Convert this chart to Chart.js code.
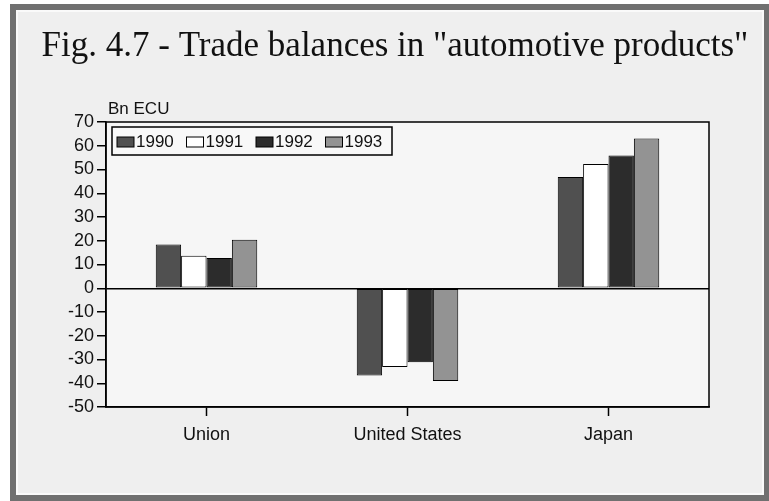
<!DOCTYPE html>
<html>
<head>
<meta charset="utf-8">
<script src="https://cdn.jsdelivr.net/npm/chart.js@4"></script>
<style>
  html, body { margin: 0; padding: 0; background: #fff; }
  #wrap { width: 769px; height: 501px; position: relative; }
</style>
</head>
<body>
<div id="wrap"><canvas id="tradeChart"></canvas></div>
<script>
// Fig. 4.7 - trade balances, Bn ECU
const regions = ['Union', 'United States', 'Japan'];
const years = ['1990', '1991', '1992', '1993'];
const bal1990 = [18.4, -36.7, 46.8];
const bal1991 = [13.7, -33.2, 52.3];
const bal1992 = [12.7, -31.2, 55.9];
const bal1993 = [20.4, -39.1, 63.1];
const yMin = -50, yMax = 70, yStep = 10;

const titleText = 'Fig. 4.7 - Trade balances in "automotive products"';
const unitText = 'Bn ECU';
const fills = ['#505050', '#ffffff', '#2c2c2c', '#939393'];

const sansFont = '"Liberation Sans", Arial, sans-serif';

// background, frame, title, plot box and legend
const decor = {
    id: 'decor',
    beforeDraw(chart) {
        const c = chart.ctx;
        const a = chart.chartArea;
        c.save();
        c.fillStyle = '#ffffff';
        c.fillRect(0, 0, chart.width, chart.height);
        c.fillStyle = '#707070';
        c.fillRect(10, 4, 759, 497);
        c.fillStyle = '#fafafa';
        c.fillRect(16, 10, 748, 485);
        c.fillStyle = '#efefef';
        c.fillRect(18, 12, 744, 481);
        c.fillStyle = '#f6f6f6';
        c.fillRect(a.left, a.top, a.right - a.left, a.bottom - a.top);
        c.restore();
    },
    afterDraw(chart) {
        const c = chart.ctx;
        const a = chart.chartArea;
        c.save();
        c.strokeStyle = '#000';
        c.lineWidth = 1.5;
        c.strokeRect(a.left, a.top, a.right - a.left, a.bottom - a.top);

        c.fillStyle = '#111';
        c.font = '35px "Liberation Serif", "Times New Roman", serif';
        c.textAlign = 'center';
        c.textBaseline = 'alphabetic';
        c.fillText(titleText, 395, 56);

        c.font = '17px ' + sansFont;
        c.textAlign = 'left';
        c.fillText(unitText, 108, 114);

        // legend box inside the plot
        const bx = 112, by = 127, bw = 280, bh = 28;
        c.fillStyle = '#f8f8f8';
        c.fillRect(bx, by, bw, bh);
        c.lineWidth = 1.5;
        c.strokeRect(bx, by, bw, bh);
        chart.data.datasets.forEach((ds, i) => {
            const x = bx + 5 + i * 69.5;
            c.fillStyle = ds.backgroundColor;
            c.fillRect(x, by + 10, 17, 10);
            c.lineWidth = 1;
            c.strokeStyle = '#000';
            c.strokeRect(x, by + 10, 17, 10);
            c.fillStyle = '#111';
            c.font = '17px ' + sansFont;
            c.textBaseline = 'middle';
            c.fillText(ds.label, x + 19, by + 15);
        });
        c.restore();
    }
};

const sets = [bal1990, bal1991, bal1992, bal1993].map((vals, i) => ({
    label: years[i],
    data: vals,
    backgroundColor: fills[i],
    borderColor: '#000',
    borderWidth: 1,
    borderSkipped: false,
    categoryPercentage: 0.505,
    barPercentage: 1
}));

const tradeChart = new Chart(document.getElementById('tradeChart'), {
    type: 'bar',
    data: { labels: regions, datasets: sets },
    plugins: [decor],
    options: {
        responsive: true,
        maintainAspectRatio: false,
        animation: false,
        devicePixelRatio: 1,
        layout: { padding: { top: 122, right: 60, bottom: 0, left: 0 } },
        plugins: {
            legend: { display: false },
            tooltip: { enabled: false }
        },
        scales: {
            x: {
                afterFit: s => { s.height = 94; },
                grid: {
                    offset: false,
                    drawOnChartArea: false,
                    drawTicks: true,
                    tickLength: 9,
                    tickColor: '#000',
                    tickWidth: 1.5
                },
                border: { display: true, color: '#000', width: 1.5 },
                ticks: {
                    color: '#111',
                    padding: 8,
                    maxRotation: 0,
                    font: { family: sansFont, size: 18 }
                }
            },
            y: {
                min: yMin,
                max: yMax,
                afterFit: s => { s.width = 106; },
                grid: {
                    color: ctx => (ctx.tick && ctx.tick.value === 0 ? '#000' : 'rgba(0,0,0,0)'),
                    lineWidth: 1.5,
                    drawTicks: true,
                    tickLength: 9,
                    tickColor: '#000',
                    tickWidth: 1.5
                },
                border: { display: true, color: '#000', width: 1.5 },
                ticks: {
                    stepSize: yStep,
                    autoSkip: false,
                    color: '#111',
                    padding: 3,
                    font: { family: sansFont, size: 18 }
                }
            }
        }
    }
});
</script>
</body>
</html>
